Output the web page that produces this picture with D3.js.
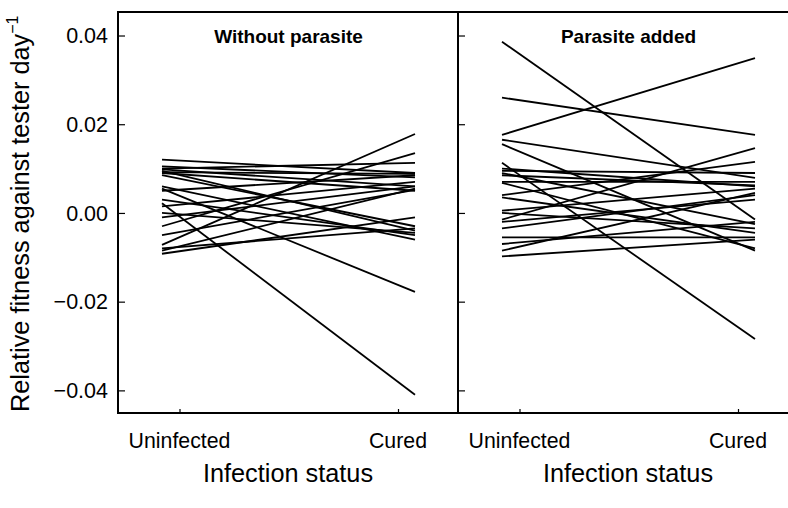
<!DOCTYPE html>
<html>
<head>
<meta charset="utf-8">
<script src="https://cdn.jsdelivr.net/npm/d3@7"></script>
<style>
html,body{margin:0;padding:0;background:#fff;}
svg{display:block;font-family:"Liberation Sans",Arial,Helvetica,sans-serif;}
</style>
</head>
<body>
<svg id="chart" width="788" height="508"></svg>
<script>
const panelTitles = ["Without parasite", "Parasite added"];
const conditions = ["Uninfected", "Cured"];
const yTicks = [-0.04, -0.02, 0.00, 0.02, 0.04];
const yTickLabels = ["\u22120.04", "\u22120.02", "0.00", "0.02", "0.04"];
const xAxisTitle = "Infection status";

// [Uninfected, Cured] relative fitness per line
const withoutParasite = [
  [0.0120, 0.0090],
  [0.0105, 0.0080],
  [0.0100, 0.0113],
  [0.0098, 0.0060],
  [0.0095, -0.0040],
  [0.0092, 0.0088],
  [0.0090, 0.0050],
  [0.0085, -0.0030],
  [0.0060, -0.0060],
  [0.0055, -0.0178],
  [0.0050, 0.0085],
  [0.0030, -0.0050],
  [0.0022, -0.0410],
  [0.0015, 0.0070],
  [0.0000, -0.0045],
  [-0.0010, 0.0060],
  [-0.0030, 0.0135],
  [-0.0050, 0.0052],
  [-0.0072, 0.0178],
  [-0.0080, -0.0035],
  [-0.0085, 0.0055],
  [-0.0092, -0.0010]
];
const parasiteAdded = [
  [0.0386, -0.0015],
  [0.0260, 0.0176],
  [0.0176, 0.0349],
  [0.0165, 0.0079],
  [0.0155, -0.0085],
  [0.0113, -0.0284],
  [0.0100, 0.0060],
  [0.0095, 0.0090],
  [0.0090, -0.0025],
  [0.0085, 0.0062],
  [0.0070, 0.0070],
  [0.0068, -0.0080],
  [0.0040, 0.0115],
  [0.0035, -0.0045],
  [0.0005, 0.0055],
  [0.0000, -0.0035],
  [-0.0015, 0.0146],
  [-0.0020, 0.0030],
  [-0.0035, 0.0040],
  [-0.0055, -0.0055],
  [-0.0070, -0.0020],
  [-0.0085, 0.0045],
  [-0.0098, -0.0060]
];
const panelData = [withoutParasite, parasiteAdded];

const svg = d3.select("#chart");
const plotTop = 12, plotBottom = 413, panelW = 340;
const panelLefts = [118, 458];

const y = d3.scaleLinear().domain([-0.0451, 0.0453]).range([plotBottom, plotTop]);

panelData.forEach((data, i) => {
  const left = panelLefts[i];
  const x = d3.scalePoint().domain(conditions).range([left + 44, left + 297]);
  const xLab = d3.scalePoint().domain(conditions).range([left + 61.5, left + 280]);
  const g = svg.append("g");

  const line = d3.line().x((d, k) => x(conditions[k])).y(d => y(d));
  g.selectAll("path.l").data(data).join("path")
    .attr("class", "l")
    .attr("d", d => line(d))
    .attr("fill", "none").attr("stroke", "#000").attr("stroke-width", 1.8);

  g.append("rect").attr("x", left).attr("y", plotTop).attr("width", panelW).attr("height", plotBottom - plotTop)
    .attr("fill", "none").attr("stroke", "#000").attr("stroke-width", 2);

  const yAx = d3.axisRight(y).tickValues(yTicks).tickSize(7).tickFormat("");
  g.append("g").attr("transform", `translate(${left},0)`).call(yAx)
    .call(s => s.select(".domain").remove())
    .call(s => s.selectAll(".tick line").attr("stroke-width", 1.2));

  const xAx = d3.axisTop(xLab).tickSize(4).tickFormat("");
  g.append("g").attr("transform", `translate(0,${plotBottom})`).call(xAx)
    .call(s => s.select(".domain").remove())
    .call(s => s.selectAll(".tick line").attr("stroke-width", 1.2));

  g.selectAll("text.xl").data(conditions).join("text")
    .attr("class", "xl")
    .attr("x", d => xLab(d)).attr("y", 448)
    .attr("text-anchor", "middle").attr("font-size", 21.3)
    .text(d => d);

  g.append("text").attr("x", left + 170).attr("y", 482)
    .attr("text-anchor", "middle").attr("font-size", 25.3)
    .text(xAxisTitle);

  g.append("text").attr("x", left + 170.5).attr("y", 43)
    .attr("text-anchor", "middle").attr("font-size", 19).attr("font-weight", "bold")
    .text(panelTitles[i]);
});

svg.selectAll("text.yl").data(yTicks).join("text")
  .attr("class", "yl")
  .attr("x", 108).attr("y", d => y(d) + 7.7)
  .attr("text-anchor", "end").attr("font-size", 21.5)
  .text((d, k) => yTickLabels[k]);

const yt = svg.append("text")
  .attr("transform", "translate(29,412) rotate(-90)")
  .attr("text-anchor", "start").attr("font-size", 25.3);
yt.append("tspan").text("Relative fitness against tester day");
yt.append("tspan").attr("dy", -11).attr("font-size", 16).text("\u22121");
</script>
</body>
</html>
